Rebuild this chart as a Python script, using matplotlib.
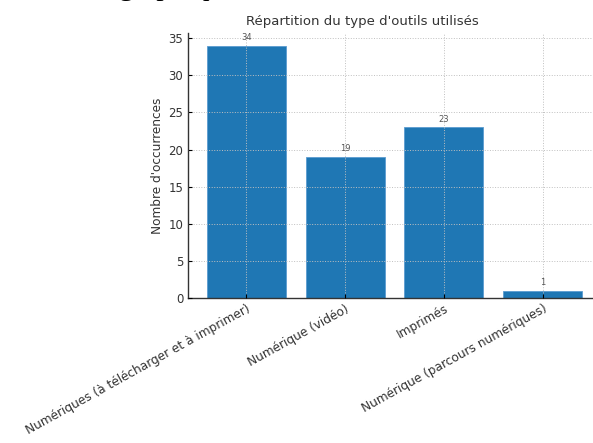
import matplotlib
matplotlib.use("Agg")
import matplotlib.pyplot as plt

categories = ["Numériques (à télécharger et à imprimer)", "Numérique (vidéo)",
              "Imprimés", "Numérique (parcours numériques)"]
values = [34, 19, 23, 1]
title = "Répartition du type d'outils utilisés"
ylabel = "Nombre d'occurrences"

plt.rcParams['font.family'] = ['DejaVu Sans']
txt = '#333333'

fig = plt.figure(figsize=(5.93, 4.43), dpi=100)
ax = fig.add_axes([188/593, (443-298)/443, (601-188)/593, (298-33)/443])

x = range(len(categories))
bars = ax.bar(x, values, width=0.8, color='#1f77b4', edgecolor='#5b9bd0', linewidth=0.6, zorder=1)
ax.set_axisbelow(False)
ax.grid(True, linestyle=':', color='#c0c0c0', linewidth=0.7, zorder=3)

for xi, v in zip(x, values):
    ax.text(xi, v + 0.5, str(v), ha='center', va='bottom', fontsize=6, color='#555555')

ax.set_xticks(list(x))
ax.set_xticklabels(categories, rotation=29, ha='right', rotation_mode='anchor', fontsize=8.7, color=txt)
ax.set_yticks([0, 5, 10, 15, 20, 25, 30, 35])
ax.tick_params(axis='y', labelsize=8.5, labelcolor=txt, direction='in', length=3)
ax.tick_params(axis='x', direction='in', length=3, pad=3)
ax.set_ylabel(ylabel, fontsize=8.7, color=txt, labelpad=3)
for s in ['top', 'right']:
    ax.spines[s].set_visible(False)
for s in ['left', 'bottom']:
    ax.spines[s].set_color('#333333')
    ax.spines[s].set_linewidth(1.0)

fig.text(362/593, (443-21)/443, title, ha='center', va='center', fontsize=9.5, color=txt)
fig.text(119/593, 1.0 + 5.0/443, "graphique", ha='left', va='baseline',
         fontsize=21.6, family='Liberation Serif', color='black')

fig.savefig('out.png', dpi=100)
